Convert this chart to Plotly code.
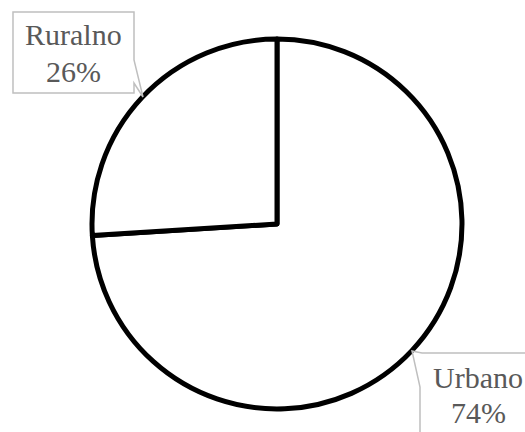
import plotly.graph_objects as go

categories = ["Urbano", "Ruralno"]
values = [74, 26]
labels_txt = ["Urbano", "Ruralno"]
pct_txt = ["74%", "26%"]

W, H = 525, 432

def px(x):
    return x / W

def py(y):
    return 1 - y / H

cx, cy, r = 277, 224, 185

fig = go.Figure(go.Pie(
    labels=categories, values=values, sort=False, direction="clockwise", rotation=0,
    marker=dict(colors=["white", "white"], line=dict(color="black", width=5)),
    textinfo="none", hoverinfo="none", showlegend=False,
    domain=dict(x=[px(cx - r), px(cx + r)], y=[py(cy + r), py(cy - r)]),
))

def path(points):
    return "M " + " L ".join(f"{px(x):.5f},{py(y):.5f}" for x, y in points) + " Z"

shapes = [
    dict(type="path", xref="paper", yref="paper",
         path=path([(134, 60), (134, 12), (13, 12), (13, 93), (134, 93), (134, 83), (143, 97)]),
         line=dict(color="#bfbfbf", width=1.5), fillcolor="rgba(0,0,0,0)"),
    dict(type="path", xref="paper", yref="paper",
         path=path([(422, 353), (560, 353), (560, 460), (420, 460), (420, 387), (412, 351)]),
         line=dict(color="#bfbfbf", width=1.5), fillcolor="rgba(0,0,0,0)"),
]

font = dict(family="Liberation Serif", size=30, color="#595959")
ann = []
for text, x, y in [(labels_txt[1], 73, 35), (pct_txt[1], 73, 71),
                   (labels_txt[0], 478, 377), (pct_txt[0], 478, 412)]:
    ann.append(dict(text=text, x=px(x), y=py(y), xref="paper", yref="paper",
                    xanchor="center", yanchor="middle", showarrow=False, font=font))

fig.update_layout(width=W, height=H, margin=dict(l=0, r=0, t=0, b=0),
                  paper_bgcolor="white", plot_bgcolor="white",
                  shapes=shapes, annotations=ann)
fig.write_html("out.html", config={"displayModeBar": False, "staticPlot": True},
               post_script="document.body.style.margin='0';document.body.style.overflow='hidden';")
